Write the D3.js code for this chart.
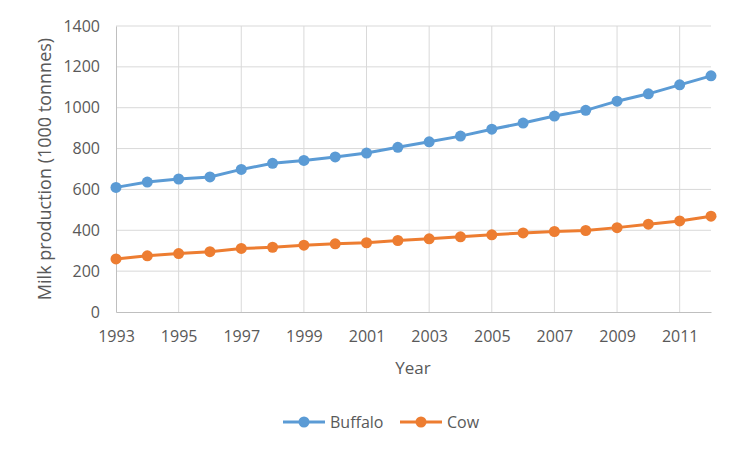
<!DOCTYPE html>
<html>
<head>
<meta charset="utf-8">
<script src="https://cdn.jsdelivr.net/npm/d3@7"></script>
<style>
body{margin:0;background:#fff;}
text{font-family:"Open Sans","Noto Sans",sans-serif;fill:#595959;}
</style>
</head>
<body>
<svg id="chart" width="756" height="456"></svg>
<script>
var years=[1993,1994,1995,1996,1997,1998,1999,2000,2001,2002,2003,2004,2005,2006,2007,2008,2009,2010,2011,2012];
var buffalo=[610,636,651,661,698,728,742,759,778,806,833,861,895,925,959,987,1032,1068,1112,1156];
var cow=[260,275,286,295,311,317,327,334,339,350,358,368,378,387,394,399,413,430,446,469];
var yTicks=[0,200,400,600,800,1000,1200,1400];
var xTicks=[1993,1995,1997,1999,2001,2003,2005,2007,2009,2011];
var seriesNames=["Buffalo","Cow"];
var colors=["#5B9BD5","#ED7D31"];

var plotLeft=116, plotRight=711, plotTop=26, plotBottom=312;
var svg=d3.select("#chart");

var x=d3.scaleLinear().domain([1993,2012]).range([plotLeft,plotRight]);
var y=d3.scaleLinear().domain([0,1400]).range([plotBottom,plotTop]);

// grid
svg.append("g").selectAll("line").data(yTicks.slice(1)).enter()
    .append("line")
    .attr("x1",plotLeft).attr("x2",plotRight)
    .attr("y1",function(d){return y(d);}).attr("y2",function(d){return y(d);})
    .attr("stroke","#D9D9D9").attr("stroke-width",1);
svg.append("g").selectAll("line").data(xTicks.slice(1)).enter()
    .append("line")
    .attr("x1",function(d){return x(d);}).attr("x2",function(d){return x(d);})
    .attr("y1",plotTop).attr("y2",plotBottom)
    .attr("stroke","#D9D9D9").attr("stroke-width",1);

// axes
var yAxis=svg.append("g")
    .attr("transform","translate("+plotLeft+",0)")
    .call(d3.axisLeft(y).tickValues(yTicks).tickFormat(d3.format("d")).tickSize(0).tickPadding(16));
yAxis.select(".domain").attr("stroke","#BFBFBF");
yAxis.selectAll("text").style("font-size","16px").attr("fill","#595959");

var xAxis=svg.append("g")
    .attr("transform","translate(0,"+plotBottom+")")
    .call(d3.axisBottom(x).tickValues(xTicks).tickFormat(d3.format("d")).tickSize(0).tickPadding(19));
xAxis.select(".domain").attr("stroke","#BFBFBF");
xAxis.selectAll("text").style("font-size","16px").attr("fill","#595959");

// titles
svg.append("text")
    .attr("x",413).attr("y",374)
    .attr("text-anchor","middle")
    .style("font-size","17px")
    .text("Year");
svg.append("text")
    .attr("transform","translate(51,169) rotate(-90)")
    .attr("text-anchor","middle")
    .style("font-size","18px")
    .text("Milk production (1000 tonnnes)");

// series
var line=d3.line()
    .x(function(d,i){return x(years[i]);})
    .y(function(d){return y(d);});

[buffalo,cow].forEach(function(s,k){
    svg.append("path")
        .datum(s)
        .attr("d",line)
        .attr("fill","none")
        .attr("stroke",colors[k])
        .attr("stroke-width",3);
    svg.append("g").selectAll("circle").data(s).enter()
        .append("circle")
        .attr("cx",function(d,i){return x(years[i]);})
        .attr("cy",function(d){return y(d);})
        .attr("r",5.5)
        .attr("fill",colors[k]);
});

// legend
var legendX=[283,400];
seriesNames.forEach(function(name,k){
    var g=svg.append("g").attr("transform","translate("+legendX[k]+",422)");
    g.append("line").attr("x1",0).attr("x2",42).attr("y1",0).attr("y2",0)
        .attr("stroke",colors[k]).attr("stroke-width",3);
    g.append("circle").attr("cx",21).attr("cy",0).attr("r",5.5).attr("fill",colors[k]);
    g.append("text").attr("x",47).attr("y",6).style("font-size","16px").text(name);
});
</script>
</body>
</html>
